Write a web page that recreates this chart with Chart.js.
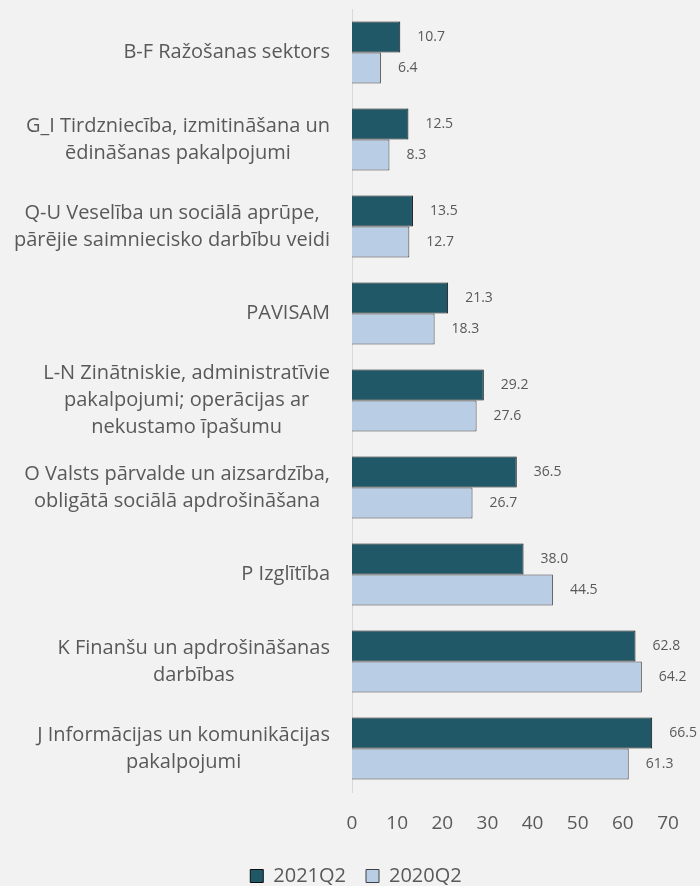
<!DOCTYPE html>
<html>
<head>
<meta charset="utf-8">
<script src="https://cdn.jsdelivr.net/npm/chart.js@4.4.0/dist/chart.umd.min.js"></script>
<style>
  html, body { margin: 0; padding: 0; background: #f2f2f2; }
  #wrap { width: 700px; height: 886px; position: relative; }
</style>
</head>
<body>
<div id="wrap"><canvas id="chart"></canvas></div>
<script>
const categories = [
  ['B-F Ražošanas sektors'],
  ['G_I Tirdzniecība, izmitināšana un', 'ēdināšanas pakalpojumi'],
  ['Q-U Veselība un sociālā aprūpe,', 'pārējie saimniecisko darbību veidi'],
  ['PAVISAM'],
  ['L-N Zinātniskie, administratīvie', 'pakalpojumi; operācijas ar', 'nekustamo īpašumu'],
  ['O Valsts pārvalde un aizsardzība,', 'obligātā sociālā apdrošināšana'],
  ['P Izglītība'],
  ['K Finanšu un apdrošināšanas', 'darbības'],
  ['J Informācijas un komunikācijas', 'pakalpojumi']
];
const seriesNames = ['2021Q2', '2020Q2'];
const values2021 = [10.7, 12.5, 13.5, 21.3, 29.2, 36.5, 38.0, 62.8, 66.5];
const values2020 = [6.4, 8.3, 12.7, 18.3, 27.6, 26.7, 44.5, 64.2, 61.3];
const xTicks = [0, 10, 20, 30, 40, 50, 60, 70];

const FONT = "'Open Sans', 'Noto Sans', sans-serif";
const GREY = '#595959';

// background
const bgPlugin = {
  id: 'bg',
  beforeDraw(chart) {
    const ctx = chart.ctx;
    ctx.save();
    ctx.fillStyle = '#f2f2f2';
    ctx.fillRect(0, 0, chart.width, chart.height);
    ctx.restore();
  }
};

// legend is centred under the whole canvas, not the padded box
const legendShift = {
  id: 'legendShift',
  afterLayout(chart) {
    const lg = chart.legend;
    if (!lg) return;
    lg.left += 22;
    lg.right += 22;
  }
};

// category labels: block right-aligned, lines centred inside the block
const catLabels = {
  id: 'catLabels',
  afterDraw(chart) {
    const ctx = chart.ctx;
    const y = chart.scales.y;
    const right = chart.chartArea.left - 22;
    const lh = 27;
    ctx.save();
    ctx.font = '20px ' + FONT;
    ctx.fillStyle = GREY;
    ctx.textAlign = 'center';
    ctx.textBaseline = 'middle';
    categories.forEach((lines, i) => {
      const maxW = Math.max(...lines.map(l => ctx.measureText(l).width));
      const cx = right - maxW / 2;
      const cy = y.getPixelForValue(i);
      const top = cy - (lines.length - 1) * lh / 2;
      lines.forEach((l, k) => ctx.fillText(l, cx, top + k * lh));
    });
    ctx.restore();
  }
};

// value labels at the bar ends
const valueLabels = {
  id: 'valueLabels',
  afterDatasetsDraw(chart) {
    const ctx = chart.ctx;
    ctx.save();
    ctx.font = '14px ' + FONT;
    ctx.fillStyle = GREY;
    ctx.textAlign = 'left';
    ctx.textBaseline = 'middle';
    chart.data.datasets.forEach((ds, di) => {
      const meta = chart.getDatasetMeta(di);
      meta.data.forEach((bar, i) => {
        ctx.fillText(ds.data[i].toFixed(1), bar.x + 17, bar.y);
      });
    });
    ctx.restore();
  }
};

new Chart(document.getElementById('chart'), {
  type: 'bar',
  data: {
    labels: categories.map(c => c.join(' ')),
    datasets: [
      {
        label: seriesNames[0],
        data: values2021,
        backgroundColor: '#215868',
        borderColor: '#0d0d0d',
        borderWidth: 1,
        categoryPercentage: 0.712,
        barPercentage: 1
      },
      {
        label: seriesNames[1],
        data: values2020,
        backgroundColor: '#b9cde5',
        borderColor: '#404040',
        borderWidth: 1,
        categoryPercentage: 0.712,
        barPercentage: 1
      }
    ]
  },
  options: {
    indexAxis: 'y',
    responsive: true,
    maintainAspectRatio: false,
    animation: false,
    layout: { padding: { top: 9, right: 32, left: 0, bottom: 0 } },
    scales: {
      x: {
        min: 0,
        max: 70,
        afterBuildTicks(scale) {
          scale.ticks = xTicks.map(v => ({ value: v }));
        },
        afterFit(scale) { scale.height = 54; },
        grid: { display: false },
        border: { display: false },
        ticks: {
          color: GREY,
          font: { family: FONT, size: 19 },
          padding: 12
        }
      },
      y: {
        grid: { display: false },
        border: { display: true, color: '#d9d9d9', width: 1 },
        ticks: { display: false },
        afterFit(scale) { scale.width = 352; }
      }
    },
    plugins: {
      legend: {
        position: 'bottom',
        maxHeight: 40,
        labels: {
          color: GREY,
          font: { family: FONT, size: 20 },
          boxWidth: 13,
          boxHeight: 13,
          padding: 20,
          useBorderRadius: false
        }
      },
      tooltip: { enabled: false }
    }
  },
  plugins: [bgPlugin, legendShift, catLabels, valueLabels]
});
</script>
</body>
</html>
